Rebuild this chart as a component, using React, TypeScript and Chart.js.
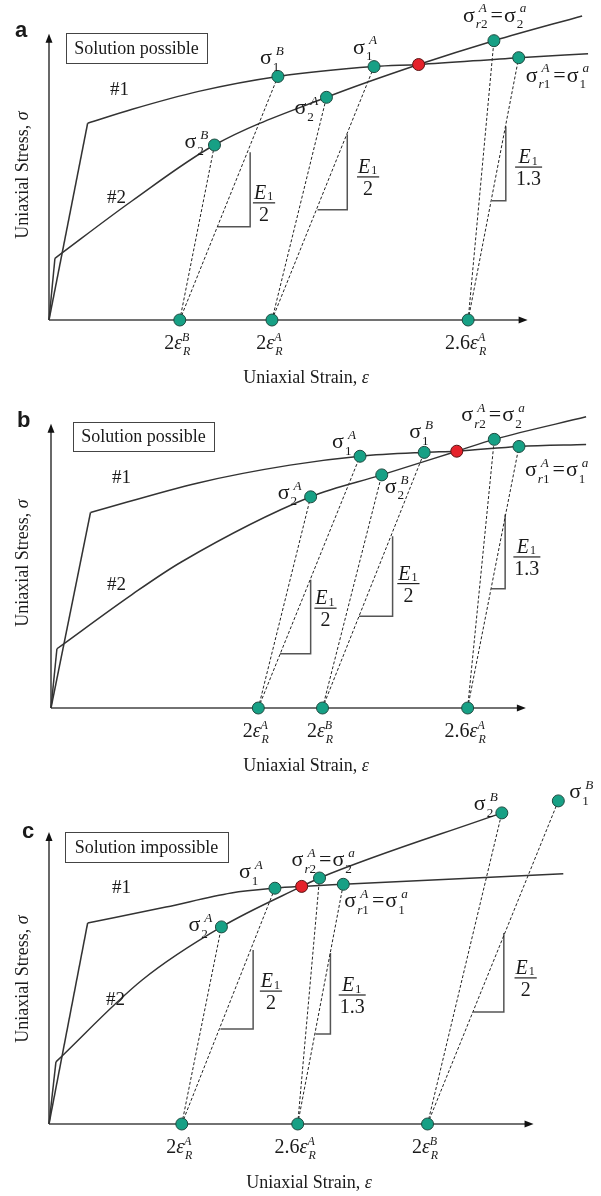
import React, { useEffect, useRef } from 'react';
import { Chart, registerables } from 'chart.js';

Chart.register(...registerables);

type Pt = { x: number; y: number };
type Seg = {
  t: string;
  it?: boolean;
  sub?: string;
  sup?: string;
  supShift?: number;
  subDrop?: number;
  padL?: number;
  padR?: number;
};

// ---------- text helpers for the symbolic labels ----------
const sig = (sub: string, sup: string): Seg[] => [{ t: 'σ', sub, sup, supShift: 4 }];
const sigEq = (sub1: string, sup1: string, sub2: string, sup2: string): Seg[] => [
  { t: 'σ', sub: sub1, sup: sup1, supShift: 4 },
  { t: '=', padL: 2, padR: 1 },
  { t: 'σ', sub: sub2, sup: sup2, supShift: 4 },
];
const eps = (factor: string, sup: string): Seg[] => [{ t: factor }, { t: 'ε', it: true, sub: 'R', sup }];

// ---------- a: solution possible ----------
const A_CURVE1_ELASTIC: Pt[] = [{ x: 0, y: 0 }, { x: 7.8, y: 66 }];
const A_CURVE1: Pt[] = [
  { x: 7.8, y: 66 }, { x: 16.8, y: 70.7 }, { x: 30.2, y: 76.7 }, { x: 46.2, y: 81.7 },
  { x: 65.6, y: 85 }, { x: 74.6, y: 85.7 }, { x: 94.8, y: 88 }, { x: 108.8, y: 89.3 },
];
const A_CURVE2_ELASTIC: Pt[] = [{ x: 0, y: 0 }, { x: 1.2, y: 20.7 }];
const A_CURVE2: Pt[] = [
  { x: 1.2, y: 20.7 }, { x: 16.8, y: 40 }, { x: 33.4, y: 58.7 }, { x: 56, y: 74.7 },
  { x: 74.6, y: 85.7 }, { x: 89.8, y: 93.7 }, { x: 107.6, y: 102 },
];
const A_STRAIN = [26.4, 45, 84.6];
const A_STRAIN_NAMES = [eps('2', 'B'), eps('2', 'A'), eps('2.6', 'A')];
const A_STATES: Pt[] = [
  { x: 46.2, y: 81.7 }, { x: 33.4, y: 58.7 }, { x: 65.6, y: 85 },
  { x: 56, y: 74.7 }, { x: 89.8, y: 93.7 }, { x: 94.8, y: 88 },
];
const A_STATE_NAMES = [sig('1', 'B'), sig('2', 'B'), sig('1', 'A'), sig('2', 'A'), sigEq('r2', 'A', '2', 'a'), sigEq('r1', 'A', '1', 'a')];
const A_CROSSING: Pt[] = [{ x: 74.6, y: 85.7 }];
const A_UNLOAD: [number, number][] = [[0, 1], [0, 0], [1, 3], [1, 2], [2, 4], [2, 5]];
const A_SLOPES = [
  { x0: 34, x1: 40.6, y0: 31.3, y1: 56.3, den: '2' },
  { x0: 54.2, x1: 60.2, y0: 37, y1: 62.3, den: '2' },
  { x0: 89.4, x1: 92.2, y0: 40, y1: 65, den: '1.3' },
];

// ---------- b: solution possible ----------
const B_CURVE1_ELASTIC: Pt[] = [{ x: 0, y: 0 }, { x: 8, y: 66 }];
const B_CURVE1: Pt[] = [
  { x: 8, y: 66 }, { x: 29.8, y: 76 }, { x: 48.4, y: 82 }, { x: 62.6, y: 85 },
  { x: 75.6, y: 86.3 }, { x: 82.2, y: 86.7 }, { x: 94.8, y: 88.3 }, { x: 108.4, y: 89 },
];
const B_CURVE2_ELASTIC: Pt[] = [{ x: 0, y: 0 }, { x: 1.2, y: 20 }];
const B_CURVE2: Pt[] = [
  { x: 1.2, y: 20 }, { x: 16.4, y: 38.3 }, { x: 26.4, y: 49.3 }, { x: 52.6, y: 71.3 },
  { x: 67, y: 78.7 }, { x: 82.2, y: 86.7 }, { x: 89.8, y: 90.7 }, { x: 108.4, y: 98.3 },
];
const B_STRAIN = [42, 55, 84.4];
const B_STRAIN_NAMES = [eps('2', 'A'), eps('2', 'B'), eps('2.6', 'A')];
const B_STATES: Pt[] = [
  { x: 52.6, y: 71.3 }, { x: 62.6, y: 85 }, { x: 67, y: 78.7 },
  { x: 75.6, y: 86.3 }, { x: 89.8, y: 90.7 }, { x: 94.8, y: 88.3 },
];
const B_STATE_NAMES = [sig('2', 'A'), sig('1', 'A'), sig('2', 'B'), sig('1', 'B'), sigEq('r2', 'A', '2', 'a'), sigEq('r1', 'A', '1', 'a')];
const B_CROSSING: Pt[] = [{ x: 82.2, y: 86.7 }];
const B_UNLOAD: [number, number][] = [[0, 0], [0, 1], [1, 2], [1, 3], [2, 4], [2, 5]];
const B_SLOPES = [
  { x0: 46.4, x1: 52.6, y0: 18.3, y1: 43.3, den: '2' },
  { x0: 62.4, x1: 69.2, y0: 31, y1: 58, den: '2' },
  { x0: 89.2, x1: 92, y0: 40.3, y1: 65.3, den: '1.3' },
];

// ---------- c: solution impossible ----------
const C_CURVE1_ELASTIC: Pt[] = [{ x: 0, y: 0 }, { x: 7.8, y: 67 }];
const C_CURVE1: Pt[] = [
  { x: 7.8, y: 67 }, { x: 23.6, y: 72.3 }, { x: 36.8, y: 77 }, { x: 45.6, y: 78.6 },
  { x: 51, y: 79.2 }, { x: 59.4, y: 79.9 }, { x: 103.8, y: 83.4 },
];
const C_CURVE2_ELASTIC: Pt[] = [{ x: 0, y: 0 }, { x: 1.4, y: 20.7 }];
const C_CURVE2: Pt[] = [
  { x: 1.4, y: 20.7 }, { x: 18.8, y: 48 }, { x: 34.8, y: 65.7 }, { x: 51, y: 79.2 },
  { x: 54.6, y: 82 }, { x: 91.4, y: 103.7 },
];
const C_STRAIN = [26.8, 50.2, 76.4];
const C_STRAIN_NAMES = [eps('2', 'A'), eps('2.6', 'A'), eps('2', 'B')];
const C_STATES: Pt[] = [
  { x: 34.8, y: 65.7 }, { x: 45.6, y: 78.6 }, { x: 54.6, y: 82 },
  { x: 59.4, y: 79.9 }, { x: 91.4, y: 103.7 }, { x: 102.8, y: 107.7 },
];
const C_STATE_NAMES = [sig('2', 'A'), sig('1', 'A'), sigEq('r2', 'A', '2', 'a'), sigEq('r1', 'A', '1', 'a'), sig('2', 'B'), sig('1', 'B')];
const C_CROSSING: Pt[] = [{ x: 51, y: 79.2 }];
const C_UNLOAD: [number, number][] = [[0, 0], [0, 1], [1, 2], [1, 3], [2, 4], [2, 5]];
const C_SLOPES = [
  { x0: 34.6, x1: 41.2, y0: 31.7, y1: 58, den: '2' },
  { x0: 53.8, x1: 56.8, y0: 30, y1: 57, den: '1.3' },
  { x0: 85.6, x1: 91.8, y0: 37.3, y1: 63.7, den: '2' },
];

// ---------- styling ----------
const SERIF = '"Liberation Serif", "Times New Roman", serif';
const SANS = '"Liberation Sans", Arial, sans-serif';
const INK = '#333333';
const GREEN = '#17a085';
const GREEN_EDGE = '#1f4a40';
const RED = '#e5222b';
const RED_EDGE = '#5a1414';
const SIGMA_SIZE = 22;

interface Panel {
  height: number;
  left: number;
  axisY: number;
  yMax: number;
  xTip: number;
  yTip: number;
  letter: string;
  letterAt: [number, number];
  box: { text: string; x: number; y: number; w: number; h: number };
  tag1At: [number, number];
  tag2At: [number, number];
  xTitleAt: [number, number];
  yTitleY: number;
  curve1E: Pt[];
  curve1: Pt[];
  curve2E: Pt[];
  curve2: Pt[];
  strain: number[];
  strainNames: Seg[][];
  states: Pt[];
  stateNames: Seg[][];
  stateLabelOffsets: [number, number][];
  crossing: Pt[];
  unload: [number, number][];
  slopes: { x0: number; x1: number; y0: number; y1: number; den: string }[];
  slopeLabelAt: [number, number][];
}

const PANELS: { top: number; p: Panel }[] = [
  {
    top: 0,
    p: {
      height: 390, left: 49, axisY: 320, yMax: 105, xTip: 96.6, yTip: 96,
      letter: 'a', letterAt: [15, 37],
      box: { text: 'Solution possible', x: 66, y: 33, w: 141, h: 30 },
      tag1At: [110, 95], tag2At: [107, 203],
      xTitleAt: [306, 383], yTitleY: 175,
      curve1E: A_CURVE1_ELASTIC, curve1: A_CURVE1, curve2E: A_CURVE2_ELASTIC, curve2: A_CURVE2,
      strain: A_STRAIN, strainNames: A_STRAIN_NAMES,
      states: A_STATES, stateNames: A_STATE_NAMES,
      stateLabelOffsets: [[-18, -12], [-30, 3], [-21, -13], [-32, 17], [-31, -19], [7, 24]],
      crossing: A_CROSSING, unload: A_UNLOAD, slopes: A_SLOPES,
      slopeLabelAt: [[43.4, 39.3], [64.4, 48], [96.8, 51.3]],
    },
  },
  {
    top: 390,
    p: {
      height: 390, left: 51, axisY: 318, yMax: 105, xTip: 96.2, yTip: 96,
      letter: 'b', letterAt: [17, 37],
      box: { text: 'Solution possible', x: 73, y: 32, w: 141, h: 29 },
      tag1At: [112, 93], tag2At: [107, 200],
      xTitleAt: [306, 381], yTitleY: 173,
      curve1E: B_CURVE1_ELASTIC, curve1: B_CURVE1, curve2E: B_CURVE2_ELASTIC, curve2: B_CURVE2,
      strain: B_STRAIN, strainNames: B_STRAIN_NAMES,
      states: B_STATES, stateNames: B_STATE_NAMES,
      stateLabelOffsets: [[-33, 2], [-28, -8], [3, 18], [-15, -14], [-33, -18], [6, 30]],
      crossing: B_CROSSING, unload: B_UNLOAD, slopes: B_SLOPES,
      slopeLabelAt: [[55.6, 33.7], [72.4, 42], [96.4, 51]],
    },
  },
  {
    top: 780,
    p: {
      height: 416, left: 49, axisY: 344, yMax: 112, xTip: 97.8, yTip: 97.3,
      letter: 'c', letterAt: [22, 58],
      box: { text: 'Solution impossible', x: 65, y: 52, w: 163, h: 30 },
      tag1At: [112, 113], tag2At: [106, 225],
      xTitleAt: [309, 408], yTitleY: 199,
      curve1E: C_CURVE1_ELASTIC, curve1: C_CURVE1, curve2E: C_CURVE2_ELASTIC, curve2: C_CURVE2,
      strain: C_STRAIN, strainNames: C_STRAIN_NAMES,
      states: C_STATES, stateNames: C_STATE_NAMES,
      stateLabelOffsets: [[-33, 4], [-36, -10], [-28, -12], [1, 23], [-28, -3], [11, -3]],
      crossing: C_CROSSING, unload: C_UNLOAD, slopes: C_SLOPES,
      slopeLabelAt: [[44.8, 44.3], [61.2, 43], [96.2, 48.7]],
    },
  },
];

// ---------- drawing helpers ----------
function font(size: number, italic: boolean, family = SERIF, bold = false) {
  return `${italic ? 'italic ' : ''}${bold ? 'bold ' : ''}${size}px ${family}`;
}

function scriptWidth(ctx: CanvasRenderingContext2D, s: string, size: number) {
  let w = 0;
  for (const ch of s) {
    ctx.font = font(size, /[A-Za-z]/.test(ch));
    w += ctx.measureText(ch).width;
  }
  return w;
}

function drawScript(ctx: CanvasRenderingContext2D, s: string, x: number, y: number, size: number) {
  let cx = x;
  for (const ch of s) {
    ctx.font = font(size, /[A-Za-z]/.test(ch));
    ctx.fillText(ch, cx, y);
    cx += ctx.measureText(ch).width;
  }
}

function segWidth(ctx: CanvasRenderingContext2D, s: Seg, size: number) {
  ctx.font = font(size, !!s.it);
  let w = (s.padL ?? 0) + ctx.measureText(s.t).width + (s.padR ?? 0);
  const ss = size * 0.6;
  if (s.sub || s.sup) {
    const sw = s.sub ? scriptWidth(ctx, s.sub, ss) + 1 : 0;
    const pw = s.sup ? scriptWidth(ctx, s.sup, ss) + (s.supShift ?? 0) : 0;
    w += Math.max(sw, pw) + 1;
  }
  return w;
}

function drawMath(ctx: CanvasRenderingContext2D, segs: Seg[], x: number, y: number, size: number, align: 'left' | 'center' = 'left') {
  const widths = segs.map((s) => segWidth(ctx, s, size));
  const total = widths.reduce((a, b) => a + b, 0);
  let cx = align === 'center' ? x - total / 2 : x;
  ctx.textAlign = 'left';
  ctx.textBaseline = 'alphabetic';
  segs.forEach((s, i) => {
    let px = cx + (s.padL ?? 0);
    ctx.font = font(size, !!s.it);
    ctx.fillText(s.t, px, y);
    px += ctx.measureText(s.t).width;
    const ss = size * 0.6;
    if (s.sub) drawScript(ctx, s.sub, px + 1, y + (s.subDrop ?? size * 0.3), ss);
    if (s.sup) drawScript(ctx, s.sup, px + (s.supShift ?? 0), y - size * 0.42, ss);
    cx += widths[i];
  });
  return total;
}

function arrowHead(ctx: CanvasRenderingContext2D, x: number, y: number, dir: 'up' | 'right') {
  ctx.beginPath();
  if (dir === 'right') {
    ctx.moveTo(x, y);
    ctx.lineTo(x - 9, y - 3.5);
    ctx.lineTo(x - 9, y + 3.5);
  } else {
    ctx.moveTo(x, y);
    ctx.lineTo(x - 3.5, y + 9);
    ctx.lineTo(x + 3.5, y + 9);
  }
  ctx.closePath();
  ctx.fill();
}

function decorPlugin(p: Panel) {
  return {
    id: 'panelDecor',
    beforeDatasetsDraw(chart: Chart) {
      const ctx = chart.ctx;
      const xs = chart.scales.x;
      const ys = chart.scales.y;
      const x0 = xs.getPixelForValue(0);
      const y0 = ys.getPixelForValue(0);
      const xt = xs.getPixelForValue(p.xTip);
      const yt = ys.getPixelForValue(p.yTip);
      ctx.save();
      ctx.strokeStyle = '#444';
      ctx.fillStyle = '#111';
      ctx.lineWidth = 1.6;
      ctx.beginPath();
      ctx.moveTo(x0, y0);
      ctx.lineTo(xt - 4, y0);
      ctx.moveTo(x0, y0);
      ctx.lineTo(x0, yt + 4);
      ctx.stroke();
      arrowHead(ctx, xt, y0, 'right');
      arrowHead(ctx, x0, yt, 'up');
      ctx.restore();
    },
    afterDatasetsDraw(chart: Chart) {
      const ctx = chart.ctx;
      const xs = chart.scales.x;
      const ys = chart.scales.y;
      const y0 = ys.getPixelForValue(0);
      ctx.save();
      ctx.fillStyle = '#1a1a1a';

      // panel letter
      ctx.font = font(22, false, SANS, true);
      ctx.textAlign = 'left';
      ctx.textBaseline = 'alphabetic';
      ctx.fillText(p.letter, p.letterAt[0], p.letterAt[1]);

      // boxed caption
      ctx.strokeStyle = '#444';
      ctx.lineWidth = 1;
      ctx.strokeRect(p.box.x + 0.5, p.box.y + 0.5, p.box.w, p.box.h);
      ctx.font = font(18, false);
      ctx.textAlign = 'center';
      ctx.textBaseline = 'middle';
      ctx.fillText(p.box.text, p.box.x + p.box.w / 2, p.box.y + p.box.h / 2 + 1);

      // curve tags
      ctx.textAlign = 'left';
      ctx.textBaseline = 'alphabetic';
      ctx.font = font(19, false);
      ctx.fillText('#1', p.tag1At[0], p.tag1At[1]);
      ctx.fillText('#2', p.tag2At[0], p.tag2At[1]);

      // axis titles
      drawMath(ctx, [{ t: 'Uniaxial Strain, ' }, { t: 'ε', it: true }], p.xTitleAt[0], p.xTitleAt[1], 18, 'center');
      ctx.save();
      ctx.translate(22, p.yTitleY);
      ctx.rotate(-Math.PI / 2);
      drawMath(ctx, [{ t: 'Uniaxial Stress, ' }, { t: 'σ', it: true }], 0, 6, 18, 'center');
      ctx.restore();

      // strain marks on the axis
      p.strain.forEach((v, i) => {
        drawMath(ctx, p.strainNames[i], xs.getPixelForValue(v) - 2, y0 + 29, 20, 'center');
      });

      // stress state labels
      p.states.forEach((s, i) => {
        const [dx, dy] = p.stateLabelOffsets[i];
        drawMath(ctx, p.stateNames[i], xs.getPixelForValue(s.x) + dx, ys.getPixelForValue(s.y) + dy, SIGMA_SIZE, 'left');
      });

      // slope fractions E1 / k
      p.slopes.forEach((s, i) => {
        const cx = xs.getPixelForValue(p.slopeLabelAt[i][0]);
        const by = ys.getPixelForValue(p.slopeLabelAt[i][1]);
        const num: Seg[] = [{ t: 'E', it: true, sub: '1', subDrop: 1.5 }];
        const nw = drawMath(ctx, num, cx, by - 4, 20, 'center');
        ctx.font = font(20, false);
        const dw = ctx.measureText(s.den).width;
        const bw = Math.max(nw, dw) + 2;
        ctx.strokeStyle = '#222';
        ctx.lineWidth = 1.2;
        ctx.beginPath();
        ctx.moveTo(cx - bw / 2, by);
        ctx.lineTo(cx + bw / 2, by);
        ctx.stroke();
        ctx.textAlign = 'center';
        ctx.fillText(s.den, cx, by + 18);
      });
      ctx.restore();
    },
  };
}

function buildChart(canvas: HTMLCanvasElement, p: Panel) {
  const lineBase = { showLine: true, pointRadius: 0, fill: false, clip: false as const };
  const marker = (data: Pt[], fill: string, edge: string) => ({
    data, pointRadius: 6, backgroundColor: fill, pointBackgroundColor: fill,
    borderColor: edge, pointBorderColor: edge, borderWidth: 1, showLine: false, clip: false,
  });
  const datasets: any[] = [
    marker(p.crossing, RED, RED_EDGE),
    marker(p.states, GREEN, GREEN_EDGE),
    marker(p.strain.map((x) => ({ x, y: 0 })), GREEN, GREEN_EDGE),
    { ...lineBase, data: p.curve1E, borderColor: INK, borderWidth: 1.5 },
    { ...lineBase, data: p.curve1, borderColor: INK, borderWidth: 1.5, cubicInterpolationMode: 'monotone' },
    { ...lineBase, data: p.curve2E, borderColor: INK, borderWidth: 1.5 },
    { ...lineBase, data: p.curve2, borderColor: INK, borderWidth: 1.5, cubicInterpolationMode: 'monotone' },
    ...p.unload.map(([si, pi]) => ({
      ...lineBase,
      data: [{ x: p.strain[si], y: 0 }, p.states[pi]],
      borderColor: '#222', borderWidth: 1, borderDash: [3, 2],
    })),
    ...p.slopes.map((s) => ({
      ...lineBase,
      data: [{ x: s.x0, y: s.y0 }, { x: s.x1, y: s.y0 }, { x: s.x1, y: s.y1 }],
      borderColor: '#555', borderWidth: 1.5,
    })),
  ];
  const padRight = 601 - p.left - 550;
  const padBottom = p.height - p.axisY;
  const padTop = p.axisY - p.yMax * 3;
  return new Chart(canvas, {
    type: 'scatter',
    data: { datasets },
    options: {
      responsive: false,
      animation: false,
      devicePixelRatio: 1,
      events: [],
      layout: { padding: { left: p.left, right: padRight, top: padTop, bottom: padBottom } },
      scales: {
        x: { type: 'linear', min: 0, max: 110, display: false },
        y: { type: 'linear', min: 0, max: p.yMax, display: false },
      },
      plugins: { legend: { display: false }, tooltip: { enabled: false } },
    },
    plugins: [decorPlugin(p)],
  } as any);
}

function PanelCanvas({ top, p }: { top: number; p: Panel }) {
  const ref = useRef<HTMLCanvasElement>(null);
  useEffect(() => {
    const chart = buildChart(ref.current as HTMLCanvasElement, p);
    return () => chart.destroy();
  }, [p]);
  return (
    <canvas
      ref={ref}
      width={601}
      height={p.height}
      style={{ position: 'absolute', left: 0, top, width: 601, height: p.height }}
    />
  );
}

export default function App() {
  return (
    <div style={{ position: 'absolute', left: 0, top: 0, width: 601, height: 1196, background: '#fff', overflow: 'hidden' }}>
      {PANELS.map((panel, i) => (
        <PanelCanvas key={i} top={panel.top} p={panel.p} />
      ))}
    </div>
  );
}
